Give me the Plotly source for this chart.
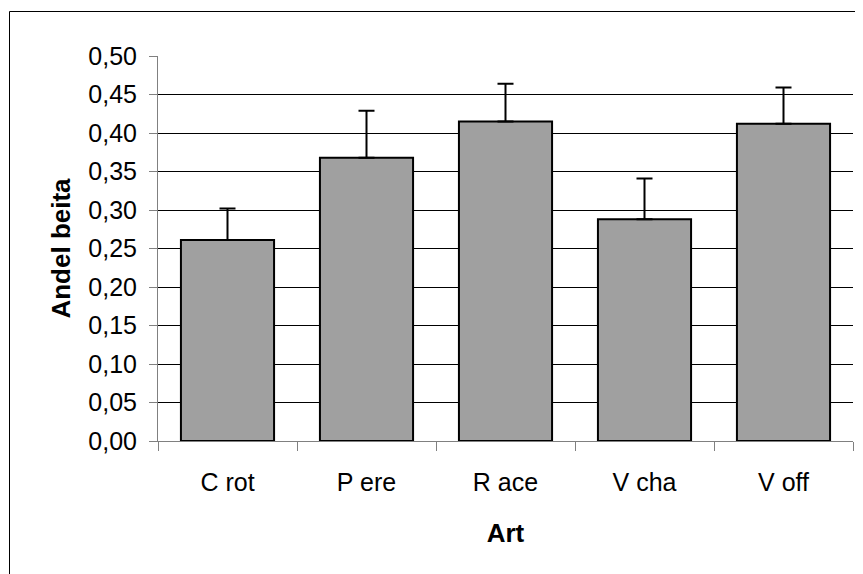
import plotly.graph_objects as go

categories = ["C rot", "P ere", "R ace", "V cha", "V off"]
values = [0.261, 0.368, 0.415, 0.288, 0.412]
errors = [0.041, 0.061, 0.049, 0.053, 0.047]
zeros = [0, 0, 0, 0, 0]
y_ticks = [0.0, 0.05, 0.10, 0.15, 0.20, 0.25, 0.30, 0.35, 0.40, 0.45, 0.50]

# page has an 8px body margin; figure coordinates are offset by it
OFF = 8
W, H = 863 - OFF, 574 - OFF
L, R, T, B = 158 - OFF, 10, 56 - OFF, 133
pw, ph = W - L - R, H - T - B

fig = go.Figure(go.Bar(
    x=categories, y=values,
    marker=dict(color="#A0A0A0", line=dict(color="#000000", width=2)),
    error_y=dict(type="data", symmetric=False, array=errors, arrayminus=zeros,
                 color="#000000", thickness=2, width=8),
    width=0.67,
))

fig.update_layout(
    width=W, height=H,
    margin=dict(l=L, r=R, t=T, b=B),
    paper_bgcolor="white", plot_bgcolor="white",
    separators=",.",
    showlegend=False,
    font=dict(family="Liberation Sans, Arial, sans-serif", size=25, color="#000000"),
    xaxis=dict(
        title=dict(text="<b>Art</b>", font=dict(size=26), standoff=28),
        showline=True, linecolor="#808080", linewidth=1,
        ticks="outside", ticklen=9, tickcolor="#808080", tickwidth=1,
        tickson="boundaries", showgrid=False,
        ticklabelstandoff=19,
    ),
    yaxis=dict(
        title=dict(text="<b>Andel beita</b>", font=dict(size=26), standoff=10),
        range=[0, 0.5], tickvals=y_ticks, tickformat=".2f",
        showline=True, linecolor="#808080", linewidth=1,
        ticks="outside", ticklen=8, tickcolor="#808080", tickwidth=1,
        showgrid=True, gridcolor="#000000", gridwidth=1,
        zeroline=False,
        ticklabelstandoff=7,
    ),
    shapes=[dict(
        type="rect", xref="paper", yref="paper",
        x0=(9.5 - 158) / pw, x1=1.1, y0=-0.5, y1=(441 - 11.5) / ph,
        line=dict(color="#000000", width=1), fillcolor="rgba(0,0,0,0)", layer="below",
    )],
)

fig.write_html("out.html")
